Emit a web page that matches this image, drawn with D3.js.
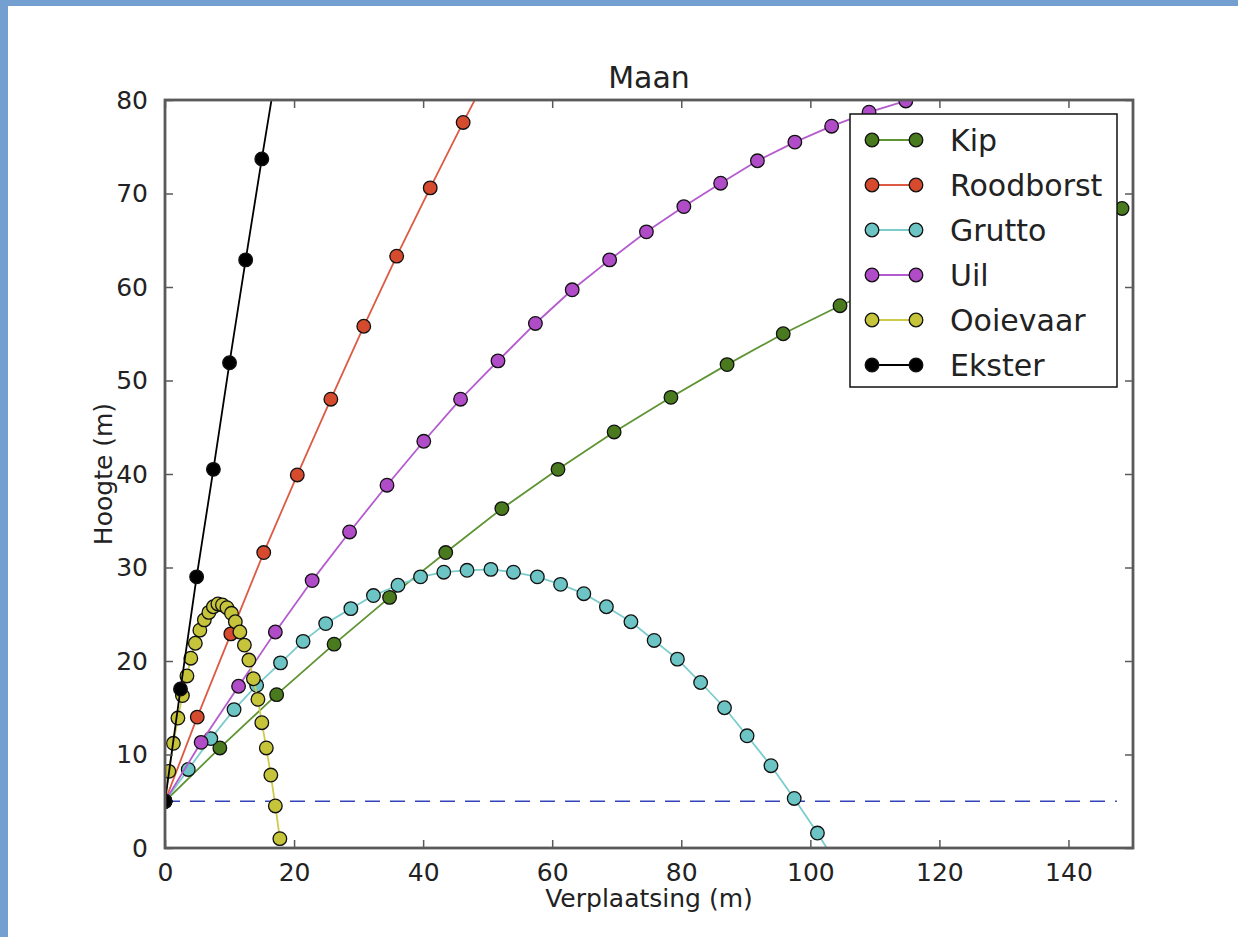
<!DOCTYPE html>
<html lang="nl">
<head>
<meta charset="UTF-8">
<script src="https://cdn.jsdelivr.net/npm/d3@7/dist/d3.min.js"></script>
<title>Maan</title>
<style>
  body { margin: 0; background: #fff; }
  text { font-family: "DejaVu Sans", sans-serif; fill: #222; }
</style>
</head>
<body>
<script>
// data (x in m, y in m)
var kipX = [0, 8.5, 17.3, 26.2, 34.8, 43.5, 52.2, 60.9, 69.6, 78.4, 87.1, 95.8, 104.6, 113.3, 122.0, 130.7, 139.5, 148.3];
var kipY = [5, 10.7, 16.4, 21.8, 26.8, 31.6, 36.3, 40.5, 44.5, 48.2, 51.7, 55.0, 58.0, 60.7, 63.1, 65.2, 67.0, 68.4];

var roodborstX = [0, 5.0, 10.2, 15.3, 20.5, 25.7, 30.8, 35.9, 41.1, 46.2, 51.3];
var roodborstY = [5, 14.0, 22.9, 31.6, 39.9, 48.0, 55.8, 63.3, 70.6, 77.6, 84.4];

var gruttoX = [0, 3.6, 7.1, 10.7, 14.2, 17.9, 21.4, 24.9, 28.8, 32.3, 36.1, 39.6, 43.2, 46.8, 50.5, 54.0, 57.7, 61.3, 64.9, 68.4, 72.2, 75.8, 79.4, 83.0, 86.7, 90.2, 93.9, 97.5, 101.1, 104.7];
var gruttoY = [5, 8.4, 11.7, 14.8, 17.4, 19.8, 22.1, 24.0, 25.6, 27.0, 28.1, 29.0, 29.5, 29.7, 29.8, 29.5, 29.0, 28.2, 27.2, 25.8, 24.2, 22.2, 20.2, 17.7, 15.0, 12.0, 8.8, 5.3, 1.6, -2.4];

var uilX = [0, 5.6, 11.4, 17.1, 22.8, 28.6, 34.4, 40.1, 45.8, 51.6, 57.4, 63.1, 68.9, 74.6, 80.4, 86.1, 91.8, 97.6, 103.3, 109.1, 114.8, 120.6];
var uilY = [5, 11.3, 17.3, 23.1, 28.6, 33.8, 38.8, 43.5, 48.0, 52.1, 56.1, 59.7, 62.9, 65.9, 68.6, 71.1, 73.5, 75.5, 77.2, 78.7, 79.9, 80.9];

var ooievaarX = [0, 0.6, 1.3, 2.0, 2.7, 3.4, 4.0, 4.7, 5.4, 6.1, 6.8, 7.5, 8.2, 8.9, 9.6, 10.3, 10.9, 11.6, 12.3, 13.0, 13.7, 14.4, 15.0, 15.7, 16.4, 17.1, 17.8];
var ooievaarY = [5, 8.2, 11.2, 13.9, 16.3, 18.4, 20.3, 21.9, 23.3, 24.4, 25.2, 25.8, 26.1, 26.0, 25.7, 25.1, 24.2, 23.1, 21.7, 20.1, 18.1, 15.9, 13.4, 10.7, 7.8, 4.5, 1.0];

var eksterX = [0, 2.4, 4.9, 7.5, 10.0, 12.5, 15.0, 17.5];
var eksterY = [5, 17.0, 29.0, 40.5, 51.9, 62.9, 73.7, 84.2];

var seriesNames = ["Kip", "Roodborst", "Grutto", "Uil", "Ooievaar", "Ekster"];
var seriesX = [kipX, roodborstX, gruttoX, uilX, ooievaarX, eksterX];
var seriesY = [kipY, roodborstY, gruttoY, uilY, ooievaarY, eksterY];
var markerColors = ["#4a7a1e", "#d64a2e", "#6cc4c4", "#b04cc8", "#c6c43a", "#000000"];
var lineColors = ["#5f9434", "#dd5a44", "#7ccccc", "#b45ccf", "#cfcb4a", "#000000"];

var xTicks = [0, 20, 40, 60, 80, 100, 120, 140];
var yTicks = [0, 10, 20, 30, 40, 50, 60, 70, 80];
var groundY = 5;
var groundXmax = 147.5;

// layout
var W = 1238, H = 937;
var margin = { top: 100, right: 105, bottom: 89, left: 165 };
var width = W - margin.left - margin.right;
var height = H - margin.top - margin.bottom;

var svg = d3.select("body").append("svg")
    .attr("width", W)
    .attr("height", H);

// page frame (blue border of the screenshot)
svg.append("rect").attr("width", W).attr("height", H).attr("fill", "#fff");
svg.append("rect").attr("x", 0).attr("y", 0).attr("width", W).attr("height", 6).attr("fill", "#73a0d0");
svg.append("rect").attr("x", 0).attr("y", 0).attr("width", 8).attr("height", H).attr("fill", "#73a0d0");

var g = svg.append("g")
    .attr("transform", "translate(" + margin.left + "," + margin.top + ")");

var x = d3.scaleLinear().domain([0, 150]).range([0, width]);
var y = d3.scaleLinear().domain([0, 80]).range([height, 0]);

g.append("clipPath").attr("id", "plot-clip")
  .append("rect").attr("width", width).attr("height", height);

var plot = g.append("g").attr("clip-path", "url(#plot-clip)");

// dashed ground line
plot.append("line")
    .attr("x1", x(0)).attr("x2", x(groundXmax))
    .attr("y1", y(groundY)).attr("y2", y(groundY))
    .attr("stroke", "#3344bb")
    .attr("stroke-width", 1.6)
    .attr("stroke-dasharray", "15,10");

var line = d3.line()
    .x(function(d) { return x(d[0]); })
    .y(function(d) { return y(d[1]); });

var markerR = 6.8;

seriesNames.forEach(function(name, i) {
    var pts = seriesX[i].map(function(v, j) { return [v, seriesY[i][j]]; });
    plot.append("path")
        .datum(pts)
        .attr("fill", "none")
        .attr("stroke", lineColors[i])
        .attr("stroke-width", 1.8)
        .attr("d", line);
    plot.selectAll(".m" + i)
        .data(pts)
        .enter()
        .append("circle")
        .attr("class", "m" + i)
        .attr("cx", function(d) { return x(d[0]); })
        .attr("cy", function(d) { return y(d[1]); })
        .attr("r", markerR)
        .attr("fill", markerColors[i])
        .attr("stroke", "#111")
        .attr("stroke-width", 1.3);
});

// axes: ticks inward on all four sides
var frameColor = "#5a5a5a";
var tickLen = 8;

g.append("g")
    .attr("transform", "translate(0," + height + ")")
    .call(d3.axisBottom(x).tickValues(xTicks).tickSize(-tickLen).tickPadding(15))
    .call(function(a) {
        a.select(".domain").remove();
        a.selectAll("line").attr("stroke", frameColor).attr("stroke-width", 1.5);
        a.selectAll("text").style("font-size", "25px").attr("fill", "#222")
            .attr("font-family", "DejaVu Sans");
    });

g.append("g")
    .call(d3.axisTop(x).tickValues(xTicks).tickSize(-tickLen).tickFormat(""))
    .call(function(a) {
        a.select(".domain").remove();
        a.selectAll("line").attr("stroke", frameColor).attr("stroke-width", 1.5);
    });

g.append("g")
    .call(d3.axisLeft(y).tickValues(yTicks).tickSize(-tickLen).tickPadding(17))
    .call(function(a) {
        a.select(".domain").remove();
        a.selectAll("line").attr("stroke", frameColor).attr("stroke-width", 1.5);
        a.selectAll("text").style("font-size", "25px").attr("fill", "#222")
            .attr("font-family", "DejaVu Sans");
    });

g.append("g")
    .attr("transform", "translate(" + width + ",0)")
    .call(d3.axisRight(y).tickValues(yTicks).tickSize(-tickLen).tickFormat(""))
    .call(function(a) {
        a.select(".domain").remove();
        a.selectAll("line").attr("stroke", frameColor).attr("stroke-width", 1.5);
    });

// frame
g.append("rect")
    .attr("width", width)
    .attr("height", height)
    .attr("fill", "none")
    .attr("stroke", frameColor)
    .attr("stroke-width", 2.8);

// title and axis labels
g.append("text")
    .attr("x", width / 2)
    .attr("y", -12)
    .attr("text-anchor", "middle")
    .style("font-size", "30px")
    .text("Maan");

g.append("text")
    .attr("x", width / 2)
    .attr("y", height + 59)
    .attr("text-anchor", "middle")
    .style("font-size", "25px")
    .text("Verplaatsing (m)");

g.append("text")
    .attr("transform", "rotate(-90)")
    .attr("x", -height / 2)
    .attr("y", -53)
    .attr("text-anchor", "middle")
    .style("font-size", "25px")
    .text("Hoogte (m)");

// legend
var legend = g.append("g").attr("transform", "translate(" + (850 - margin.left) + "," + (114 - margin.top) + ")");
legend.append("rect")
    .attr("width", 267)
    .attr("height", 273)
    .attr("fill", "#fff")
    .attr("stroke", "#111")
    .attr("stroke-width", 1.5);

seriesNames.forEach(function(name, i) {
    var row = legend.append("g").attr("transform", "translate(0," + (26 + i * 45) + ")");
    row.append("line")
        .attr("x1", 22).attr("x2", 66)
        .attr("stroke", lineColors[i]).attr("stroke-width", 1.8);
    [22, 66].forEach(function(cx) {
        row.append("circle")
            .attr("cx", cx).attr("cy", 0).attr("r", markerR)
            .attr("fill", markerColors[i])
            .attr("stroke", "#111").attr("stroke-width", 1.3);
    });
    row.append("text")
        .attr("x", 100)
        .attr("y", 0)
        .attr("dy", "0.36em")
        .style("font-size", "30px")
        .text(name);
});
</script>
</body>
</html>
